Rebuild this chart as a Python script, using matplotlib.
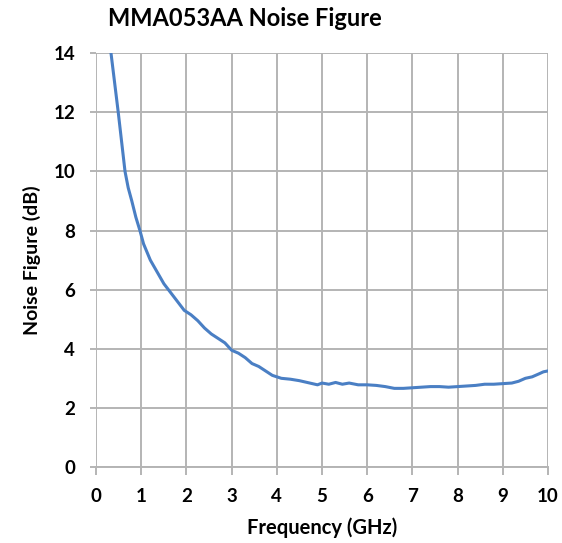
import matplotlib.pyplot as plt

# Noise figure
freq_ghz = [0.33, 0.41, 0.49, 0.565, 0.64, 0.71, 0.79, 0.88, 0.97, 1.05, 1.2, 1.35, 1.5, 1.65, 1.8,
            1.95, 2.1, 2.25, 2.4, 2.55, 2.7, 2.85, 3.0, 3.15, 3.3, 3.45, 3.6, 3.75, 3.9,
            4.1, 4.3, 4.5, 4.7, 4.9, 5.0, 5.15, 5.3, 5.45, 5.6, 5.8, 6.0, 6.2, 6.4, 6.6,
            6.8, 7.0, 7.2, 7.4, 7.6, 7.8, 8.0, 8.2, 8.4, 8.6, 8.8, 9.0, 9.2, 9.35, 9.5,
            9.65, 9.8, 9.9, 10.0]
nf_db = [14.0, 13.0, 12.0, 11.0, 10.0, 9.45, 9.0, 8.45, 8.0, 7.55, 7.0, 6.6, 6.2, 5.9, 5.6,
         5.3, 5.15, 4.95, 4.7, 4.5, 4.35, 4.2, 3.95, 3.85, 3.7, 3.5, 3.4, 3.25, 3.1,
         3.0, 2.97, 2.92, 2.85, 2.78, 2.84, 2.8, 2.86, 2.8, 2.84, 2.78, 2.78, 2.76, 2.72,
         2.66, 2.66, 2.68, 2.7, 2.72, 2.72, 2.7, 2.72, 2.74, 2.76, 2.8, 2.8, 2.82, 2.84,
         2.9, 3.0, 3.05, 3.15, 3.22, 3.25]

x_ticks = list(range(0, 11))
y_ticks = [0, 2, 4, 6, 8, 10, 12, 14]

plt.rcParams['font.family'] = ['Lato', 'DejaVu Sans']

fig = plt.figure(figsize=(5.62, 5.43), dpi=100)
ax = fig.add_axes([0.171, 0.140, 0.804, 0.762])

ax.plot(freq_ghz, nf_db, color="#4a7fc4", linewidth=2.2, zorder=3)

ax.set_xlim(0, 10)
ax.set_ylim(0, 14)
ax.set_xticks(x_ticks)
ax.set_yticks(y_ticks)
ax.grid(True, color="#b4b4b4", linewidth=1.4)
ax.set_axisbelow(True)
for side in ["top", "right", "left"]:
    ax.spines[side].set_visible(False)
ax.spines["bottom"].set_color("#b4b4b4")
ax.spines["bottom"].set_linewidth(1.4)
ax.tick_params(axis="x", length=6, width=1.4, color="#b4b4b4", pad=9,
               labelsize=13.5)
ax.tick_params(axis="y", length=4, width=1.4, color="#b4b4b4", pad=11,
               labelsize=13.5)
for lbl in ax.get_xticklabels() + ax.get_yticklabels():
    lbl.set_fontweight("bold")

ax.set_xlabel("Frequency (GHz)", fontsize=14.5, fontweight="bold", labelpad=9)
ax.set_ylabel("Noise Figure (dB)", fontsize=14, fontweight="bold", labelpad=9)
fig.text(0.192, 0.966, "MMA053AA Noise Figure", fontsize=17, fontweight="bold",
         ha="left", va="center")

fig.savefig("out.png", dpi=100)
